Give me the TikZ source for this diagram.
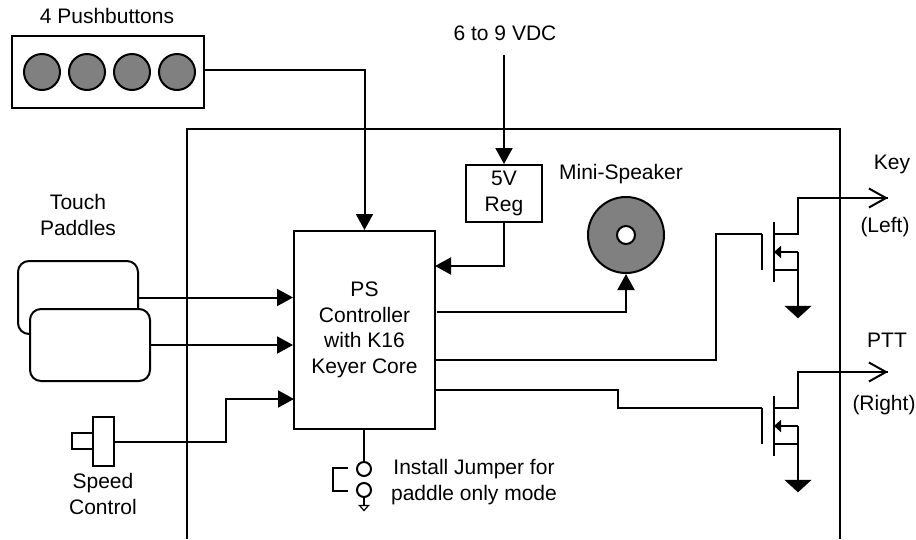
\documentclass[tikz,border=0pt]{standalone}
\usepackage{fontspec}
\setmainfont{Liberation Sans}
\usetikzlibrary{arrows.meta}
\tikzset{
    wire/.style={draw,line width=2pt},
    sig/.style={wire,-{Triangle[length=16pt,width=17pt]}},
    outp/.style={wire,-{Straight Barb[length=17pt,width=19pt,line width=2pt]}},
    box/.style={draw,line width=2pt,fill=white,inner sep=0pt},
    btn/.style={draw,circle,line width=2pt,fill=black!50,inner sep=0pt,minimum size=36pt},
    txt/.style={inner sep=0pt,align=center,font=\fontsize{21}{25.5}\selectfont},
}
\begin{document}
\begin{tikzpicture}[x=1pt,y=-1pt]
        \useasboundingbox (0,0) rectangle (916,539);

        % enclosure, left open at the bottom
        \path[wire] (187,539) -- (187,129) -- (840,129) -- (840,539);

        \node[box,minimum width=192pt,minimum height=72pt] (btns) at (108,72) {};
        \node[btn] (b1) at (42,72) {};
        \node[btn] (b2) at (87,72) {};
        \node[btn] (b3) at (132,72) {};
        \node[btn] (b4) at (177,72) {};
        \node[box,minimum width=141pt,minimum height=198pt,txt,draw] (ctrl) at (364.5,330) {PS\\Controller\\with K16\\Keyer Core};
        \node[box,minimum width=76pt,minimum height=57pt,txt,draw] (reg) at (504,193.5) {5V\\Reg};
        \node[box,circle,minimum size=76pt,fill=black!50] (spkr) at (626,235) {};
        \node[box,circle,minimum size=18pt] (hole) at (626,235) {};
        \node[box,rounded corners=11pt,minimum width=120pt,minimum height=73pt] (pad1) at (78,297.5) {};
        \node[box,rounded corners=11pt,minimum width=120pt,minimum height=72pt] (pad2) at (90,345) {};
        \node[box,minimum width=21pt,minimum height=16pt] (shaft) at (82.5,441) {};
        \node[box,minimum width=21pt,minimum height=49pt] (knob) at (103.5,441.5) {};
        \node[box,circle,minimum size=14pt] (pin1) at (364,469) {};
        \node[box,circle,minimum size=14pt] (pin2) at (364,490) {};

        \node[txt] (lbtn) at (107,16) {4 Pushbuttons};
        \node[txt] (lvdc) at (505,33) {6 to 9 VDC};
        \node[txt] (lspk) at (621,174) {Mini-Speaker};
        \node[txt] (lpad) at (78,215) {Touch\\Paddles};
        \node[txt] (lspd) at (103,494) {Speed\\Control};
        \node[txt] (ljmp) at (474,482) {Install Jumper for\\paddle only mode};
        \node[txt] (lkey) at (892,164) {Key};
        \node[txt] (llft) at (885,227) {(Left)};
        \node[txt] (lptt) at (887,340) {PTT};
        \node[txt] (lrgt) at (884,405) {(Right)};

        \coordinate (vin) at (504,55);
        \coordinate (spdin) at (294,399);
        \coordinate (regin) at (435,266);
        \coordinate (gnd) at (364,505);

        % the two output transistors
        \foreach \n/\dy in {1/0,2/174} {
            \begin{scope}[shift={(0,\dy)}]
                \coordinate (g\n) at (762,234);
                \coordinate (out\n) at (888,198);
                \path[wire] (762,270) -- (g\n);
                \path[wire] (774,222) -- (774,282);
                \path[wire] (out\n) -- (798,198) -- (798,234) -- (774,234);
                \path[wire,-{Triangle[length=7pt,width=12pt]}] (798,252) -- (774,252);
                \path[wire] (774,270) -- (798,270);
                \path[wire] (798,252) -- (798,307);
                \path[draw,fill=black] (785,306) -- (811,306) -- (798,318) -- cycle;
            \end{scope}
        }

        \path[sig] ([yshift=2.5pt]btns.east) -| (ctrl.north);
        \path[sig] (vin) -- (reg.north);
        \path[sig] (reg.south) |- (regin);
        \path[sig] (pad1.east) -- (pad1.east -| ctrl.west);
        \path[sig] (pad2.east) -- (pad2.east -| ctrl.west);
        \path[sig] (knob.east) -- ++(111,0) |- (spdin);
        \path[sig] (437,312) -| (spkr.south);
        \path[wire] (ctrl.east |- 0,360) -| (716,234) -- (g1);
        \path[wire] (ctrl.east |- 0,390) -| (618,408) -- (g2);
        \path[outp] (798,198) -- (out1);
        \path[outp] (798,372) -- (out2);

        % jumper
        \path[wire] (ctrl.south -| pin1) -- (pin1.north);
        \path[wire,line width=1.5pt] (348,468) -- (333,468) -- (333,491) -- (348,491);
        \path[wire] (pin2.south) -- (gnd);
        \path[draw,line width=1.2pt] (359.5,505.5) -- (368.5,505.5) -- (364,510.5) -- cycle;
    \end{tikzpicture}
\end{document}
